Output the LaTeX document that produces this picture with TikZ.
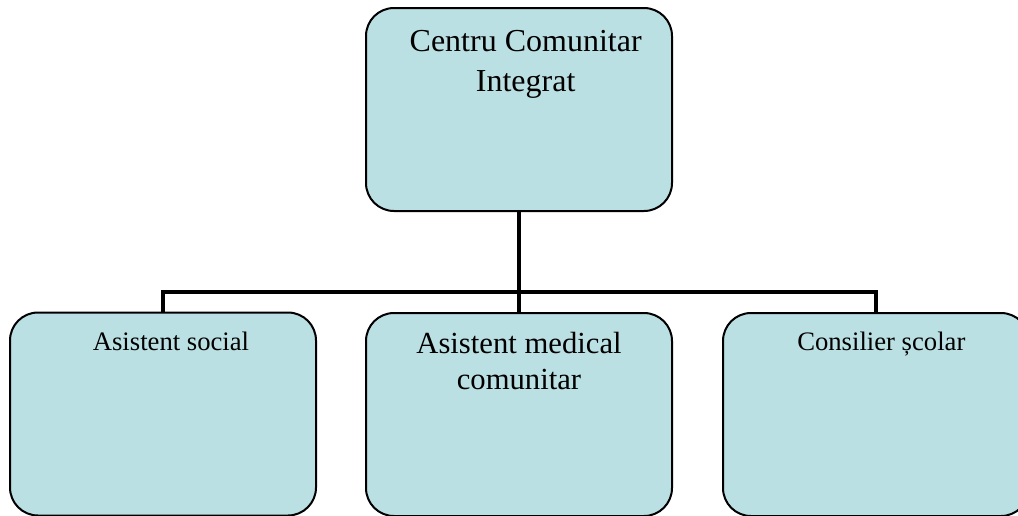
\documentclass[tikz,border=0pt]{standalone}
\usepackage{fontspec}
\setmainfont{Liberation Serif}
\usepackage{tikz}
\usetikzlibrary{positioning}
\definecolor{boxfill}{HTML}{BBE0E3}

\tikzset{
  cbox/.style={draw=black, line width=1.5pt, fill=boxfill, rounded corners=21pt,
    minimum width=229.5pt, minimum height=152.25pt, inner sep=0pt},
  ctext/.style={inner sep=0pt, align=center, text=black},
  conn/.style={line width=3.6pt, black}
}

\begin{document}
\begin{tikzpicture}[x=0.75pt, y=-0.75pt]
            \useasboundingbox (0,0) rectangle (1018,515);
            \clip (0,0) rectangle (1018,515);
            \def\bw{306}
            \def\bh{203}
            % boxes
            \node[cbox] (cci) at (519, 109.5) {};
            \node[cbox] (soc) at (163, 414) {};
            \node[cbox] (med) at (519, 414.5) {};
            \node[cbox] (cons) at (876, 414.5) {};
            % texts
            \node[ctext, font=\fontsize{24}{30}\selectfont, below=17pt of cci.north, xshift=5pt] (cci-t) {Centru Comunitar\\Integrat};
            \node[ctext, font=\fontsize{20}{24}\selectfont, below=15.5pt of soc.north, xshift=6pt] (soc-t) {Asistent social};
            \node[ctext, font=\fontsize{23}{27}\selectfont, below=15pt of med.north] (med-t) {Asistent medical\\comunitar};
            \node[ctext, font=\fontsize{20}{24}\selectfont, below=14.5pt of cons.north, xshift=4pt] (cons-t) {Consilier școlar};
            % connectors
            \coordinate (bus) at (519, 292);
            \draw[conn] (cci.south) -- (med.north);
            \draw[conn] (soc.north) |- (bus) -| (cons.north);
\end{tikzpicture}
\end{document}
